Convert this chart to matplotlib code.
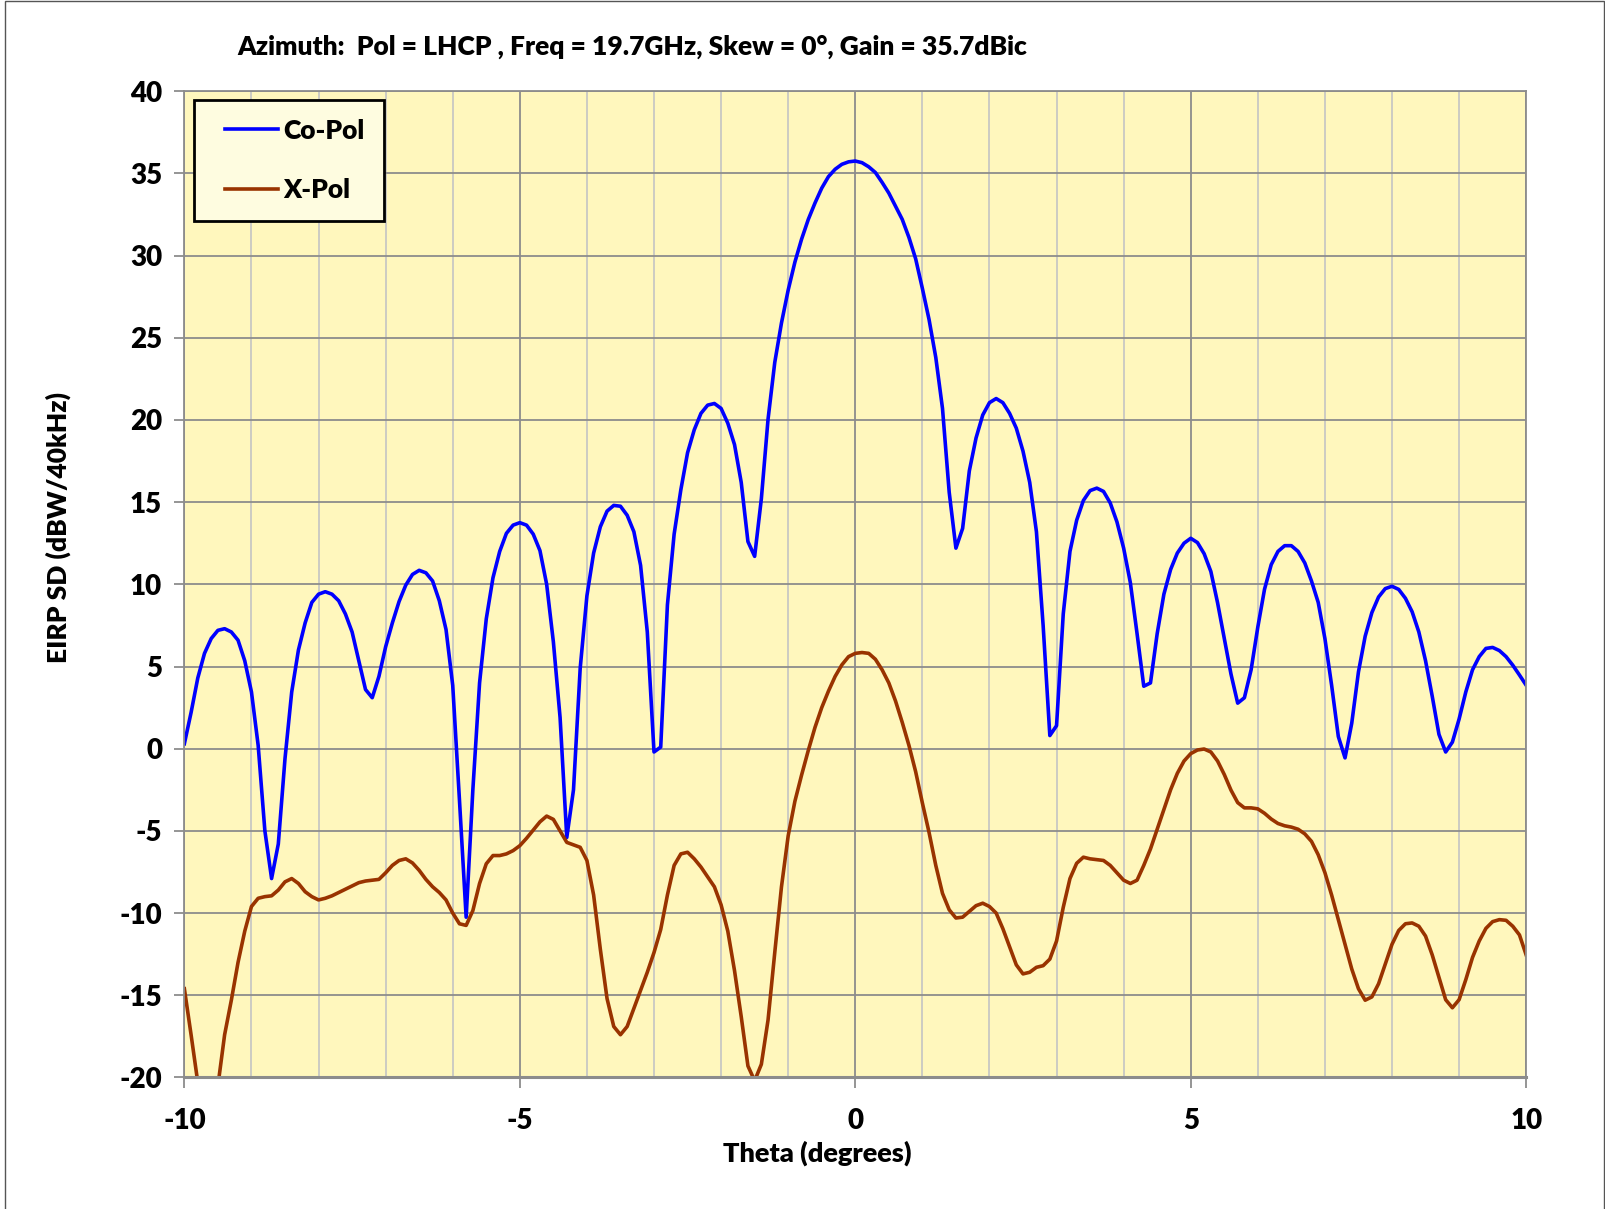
import numpy as np
import matplotlib
matplotlib.use("Agg")
import matplotlib.pyplot as plt
from matplotlib.patches import Rectangle
from matplotlib.legend_handler import HandlerLine2D
from matplotlib.lines import Line2D

# theta samples (degrees), 0.1 deg step
theta = np.round(np.arange(-100, 101) / 10.0, 1)

co_pol = [
    0.3, 2.2, 4.3, 5.8, 6.7, 7.2, 7.3, 7.1, 6.6, 5.35,
    3.45, 0.2, -5.0, -7.9, -5.8, -0.6, 3.45, 6.0, 7.65, 8.9,
    9.4, 9.55, 9.4, 9.0, 8.2, 7.1, 5.35, 3.6, 3.1, 4.4,
    6.2, 7.65, 8.95, 9.95, 10.6, 10.85, 10.7, 10.2, 9.0, 7.25,
    3.85, -3.1, -10.25, -2.5, 4.0, 7.9, 10.4, 12.0, 13.1, 13.6,
    13.75, 13.6, 13.05, 12.05, 10.0, 6.5, 1.9, -5.4, -2.5, 4.9,
    9.3, 11.9, 13.5, 14.45, 14.8, 14.75, 14.2, 13.2, 11.15, 7.1,
    -0.2, 0.1, 8.75, 13.05, 15.75, 18.0, 19.4, 20.4, 20.9, 21.0,
    20.7, 19.8, 18.5, 16.2, 12.6, 11.7, 15.2, 20.05, 23.5, 25.9,
    27.9, 29.6, 31.0, 32.2, 33.2, 34.1, 34.8, 35.25, 35.55, 35.7,
    35.75,
    35.65, 35.4, 35.05, 34.45, 33.8, 33.0, 32.2, 31.1, 29.8,
    28.0, 26.1, 23.8, 20.7, 15.6, 12.2, 13.4, 16.9, 18.9, 20.3,
    21.05, 21.3, 21.05, 20.4, 19.5, 18.1, 16.2, 13.2, 7.5, 0.8,
    1.4, 8.2, 12.0, 13.9, 15.1, 15.7, 15.85, 15.65, 14.95, 13.8,
    12.2, 10.1, 7.0, 3.8, 4.0, 7.0, 9.4, 10.9, 11.9, 12.5,
    12.8, 12.54, 11.86, 10.78, 8.88, 6.71, 4.54, 2.77, 3.1, 4.8,
    7.4, 9.7, 11.2, 12.0, 12.35, 12.35, 12.0, 11.3, 10.2, 8.9,
    6.7, 3.86, 0.74, -0.56, 1.55, 4.67, 6.84, 8.28, 9.23, 9.74,
    9.88, 9.69, 9.15, 8.33, 7.1, 5.35, 3.18, 0.87, -0.2, 0.4,
    1.8, 3.45, 4.8, 5.6, 6.1, 6.16, 5.97, 5.6, 5.08, 4.48,
    3.86,
]

x_pol = [
    -14.6, -17.4, -20.3, -22.5, -22.0, -20.5, -17.4, -15.3, -13.0, -11.1,
    -9.6, -9.1, -9.0, -8.95, -8.6, -8.1, -7.9, -8.2, -8.7, -9.0,
    -9.2, -9.1, -8.95, -8.75, -8.55, -8.35, -8.15, -8.05, -8.0, -7.95,
    -7.55, -7.1, -6.8, -6.7, -6.95, -7.4, -7.95, -8.4, -8.75, -9.2,
    -10.0, -10.65, -10.75, -9.85, -8.2, -7.0, -6.5, -6.5, -6.4, -6.2,
    -5.9, -5.45, -4.95, -4.45, -4.1, -4.3, -5.0, -5.7, -5.85, -6.0,
    -6.8, -8.9, -12.2, -15.2, -16.9, -17.4, -16.9, -15.8, -14.7, -13.6,
    -12.4, -11.0, -8.9, -7.1, -6.4, -6.3, -6.7, -7.2, -7.8, -8.4,
    -9.5, -11.1, -13.5, -16.3, -19.3, -20.2, -19.2, -16.5, -12.4, -8.4,
    -5.3, -3.2, -1.6, -0.1, 1.3, 2.5, 3.5, 4.4, 5.1, 5.6,
    5.8,
    5.85, 5.8, 5.44, 4.8, 4.0, 2.9, 1.6, 0.2, -1.4,
    -3.3, -5.1, -7.1, -8.8, -9.8, -10.3, -10.25, -9.9, -9.55, -9.4,
    -9.6, -10.0, -10.95, -12.05, -13.15, -13.7, -13.6, -13.3, -13.2, -12.8,
    -11.7, -9.65, -7.9, -6.97, -6.6, -6.7, -6.75, -6.8, -7.1, -7.55,
    -8.0, -8.2, -8.0, -7.1, -6.1, -4.9, -3.7, -2.5, -1.5, -0.75,
    -0.3, -0.08, -0.02, -0.2, -0.75, -1.57, -2.52, -3.28, -3.6, -3.6,
    -3.66, -3.93, -4.28, -4.55, -4.69, -4.77, -4.9, -5.18, -5.64, -6.45,
    -7.54, -8.9, -10.4, -11.9, -13.4, -14.6, -15.3, -15.1, -14.3, -13.1,
    -11.9, -11.06, -10.65, -10.6, -10.8, -11.4, -12.55, -13.9, -15.27, -15.76,
    -15.27, -14.05, -12.7, -11.7, -10.93, -10.52, -10.4, -10.44, -10.8, -11.33,
    -12.55,
]

series_names = ["Co-Pol", "X-Pol"]
title = "Azimuth:  Pol = LHCP , Freq = 19.7GHz, Skew = 0°, Gain = 35.7dBic"


def main():
    plt.rcParams["font.family"] = ["Lato", "DejaVu Sans"]
    plt.rcParams["font.weight"] = "heavy"
    plt.rcParams["axes.unicode_minus"] = False
    wt = "heavy"

    fig = plt.figure(figsize=(16.06, 12.09), dpi=100)
    ax = fig.add_axes([0.1148, 0.1088, 0.8355, 0.8158])
    ax.set_facecolor("#FFF7BD")

    ax.plot(theta, co_pol, color="#0000FF", lw=2.6, label=series_names[0])
    ax.plot(theta, x_pol, color="#993300", lw=2.6, label=series_names[1])

    ax.set_xlim(-10, 10)
    ax.set_ylim(-20, 40)
    ax.set_xticks(np.arange(-10, 11, 5))
    ax.set_xticks(np.arange(-10, 11, 1), minor=True)
    ax.set_yticks(np.arange(-20, 41, 5))
    ax.grid(which="major", color="#8C8C8C", lw=1.3)
    ax.grid(which="minor", axis="x", color="#C4C4C4", lw=1.2)
    ax.set_axisbelow(True)
    ax.tick_params(which="minor", length=0)
    ax.tick_params(axis="x", which="major", length=8, width=1.3, color="#8C8C8C",
                   labelsize=20, pad=14)
    ax.tick_params(axis="y", which="major", length=7, width=1.3, color="#8C8C8C",
                   labelsize=20, pad=9)
    for lab in ax.get_xticklabels() + ax.get_yticklabels():
        lab.set_fontweight(wt)
    for s in ax.spines.values():
        s.set_color("#8C8C8C")
        s.set_linewidth(1.3)
    ax.spines["bottom"].set_linewidth(2.2)

    # legend: handle pushed right inside its box so the frame has Excel-like side margins
    leg = ax.legend(loc="upper left", bbox_to_anchor=(0.0075, 0.9915), fontsize=19,
                    frameon=True, fancybox=False, edgecolor="black", facecolor="#FEFCE0",
                    framealpha=1, handlelength=2.45, handletextpad=0.2, labelspacing=1.35,
                    borderpad=0.72, borderaxespad=0,
                    handler_map={Line2D: HandlerLine2D(xpad=0.44)})
    leg.get_frame().set_linewidth(2)
    for t in leg.get_texts():
        t.set_fontweight(wt)

    fig.text(0.3935, 0.961, title, ha="center", va="center", fontsize=19, fontweight=wt)
    fig.text(0.036, 0.564, "EIRP SD (dBW/40kHz)", rotation=90, ha="center", va="center",
             fontsize=19, fontweight=wt)
    fig.text(0.509, 0.046, "Theta (degrees)", ha="center", va="center",
             fontsize=19.5, fontweight=wt)

    fig.patches.append(Rectangle((0.0033, -0.01), 0.9955, 1.0095, transform=fig.transFigure,
                                 fill=False, edgecolor="#555555", lw=1))

    fig.savefig("out.png", dpi=100)
    plt.close(fig)


if __name__ == "__main__":
    main()
